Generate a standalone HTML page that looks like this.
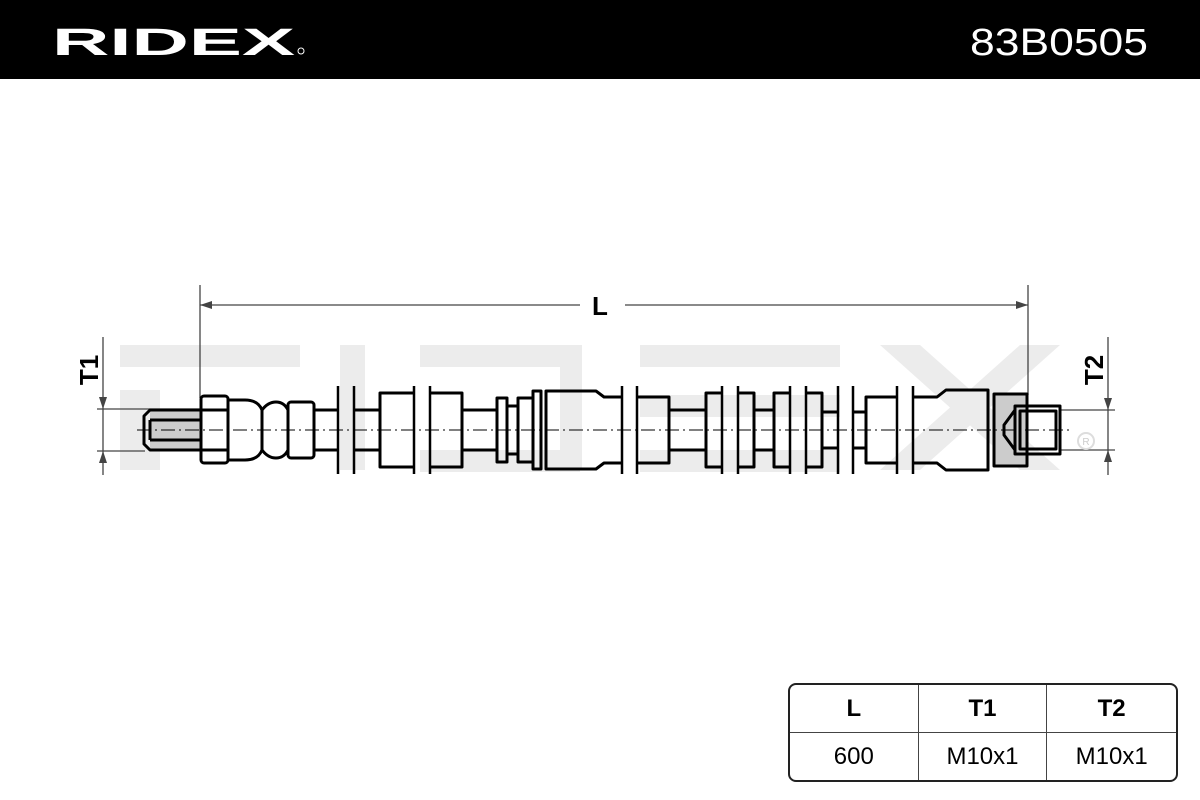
<!DOCTYPE html>
<html><head><meta charset="utf-8"><style>
html,body{margin:0;padding:0;background:#fff;}
body{width:1200px;height:800px;position:relative;overflow:hidden;font-family:"Liberation Sans",sans-serif;}
.bar{position:absolute;left:0;top:0;width:1200px;height:79px;background:#000;}
table{position:absolute;left:788px;top:683px;width:390px;height:99px;border-collapse:separate;border-spacing:0;border:2px solid #222;border-radius:8px;font-size:24px;}
td{text-align:center;border-right:1px solid #444;width:33%;}
td:last-child{border-right:none;}
tr:first-child td{border-bottom:1px solid #444;font-weight:bold;}
</style></head><body>
<div class="bar"></div>
<svg width="1200" height="800" style="position:absolute;left:0;top:0">
<text x="52" y="55" font-size="38" font-weight="bold" fill="#fff" textLength="243" lengthAdjust="spacingAndGlyphs" font-family="Liberation Sans">RIDEX</text>
<circle cx="301" cy="51" r="3" fill="none" stroke="#fff" stroke-width="1"/>
<text x="970" y="55" font-size="38" fill="#fff" textLength="178" lengthAdjust="spacingAndGlyphs" font-family="Liberation Sans">83B0505</text>
<!-- watermark -->
<g fill="#ececec">
<rect x="120" y="345" width="180" height="22"/><rect x="120" y="390" width="40" height="80"/><rect x="340" y="345" width="25" height="125"/>
<rect x="420" y="345" width="160" height="22"/><rect x="420" y="450" width="160" height="22"/><rect x="560" y="345" width="22" height="125"/>
<rect x="640" y="345" width="200" height="22"/><rect x="640" y="395" width="200" height="22"/><rect x="640" y="450" width="200" height="22"/>
<polygon points="880,345 920,345 1060,470 1020,470"/><polygon points="1020,345 1060,345 920,470 880,470"/>
</g>
<g stroke="#444" stroke-width="1.3" fill="none">
<line x1="200" y1="285" x2="200" y2="398"/><line x1="1028" y1="285" x2="1028" y2="395"/>
<line x1="200" y1="305" x2="580" y2="305"/><line x1="625" y1="305" x2="1028" y2="305"/>
<line x1="103" y1="337" x2="103" y2="475"/><line x1="97" y1="409" x2="200" y2="409"/><line x1="97" y1="451" x2="145" y2="451"/>
<line x1="1108" y1="337" x2="1108" y2="475"/><line x1="1060" y1="410" x2="1115" y2="410"/><line x1="1060" y1="450" x2="1115" y2="450"/>
</g>
<g fill="#444">
<polygon points="200,305 212,301 212,309"/><polygon points="1028,305 1016,301 1016,309"/>
<polygon points="103,409 99,397 107,397"/><polygon points="103,451 99,463 107,463"/>
<polygon points="1108,410 1104,398 1112,398"/><polygon points="1108,450 1104,462 1112,462"/>
</g>
<text x="600" y="315" font-size="26" font-weight="bold" text-anchor="middle" font-family="Liberation Sans">L</text>
<text transform="translate(98,370) rotate(-90)" font-size="26" font-weight="bold" text-anchor="middle" font-family="Liberation Sans">T1</text>
<text transform="translate(1103,370) rotate(-90)" font-size="26" font-weight="bold" text-anchor="middle" font-family="Liberation Sans">T2</text>
<g fill="#ccc"><rect x="150" y="410" width="50" height="40"/><rect x="994" y="394" width="33" height="72"/></g>
<g stroke="#000" stroke-width="3" fill="none" stroke-linejoin="round">
<path d="M200,410 H150 L144,416 V444 L150,450 H200"/>
<path d="M150,420 V440 M150,420 H200 M150,440 H200"/>
<rect x="201" y="396" width="27" height="67" rx="3"/><line x1="201" y1="410" x2="228" y2="410"/><line x1="201" y1="450" x2="228" y2="450"/>
<path d="M228,400 H245 Q258,400 262,410 V450 Q258,460 245,460 H228"/>
<path d="M262,410 Q268,402 276,402 Q284,402 288,410 V450 Q284,458 276,458 Q268,458 262,450"/>
<rect x="288" y="402" width="26" height="56" rx="3"/>
<path d="M314,410 H338 M314,450 H338"/>
<path d="M354,410 H380 M354,450 H380"/>
<path d="M414,393 H380 V467 H414"/><path d="M430,393 H462 V467 H430"/>
<path d="M462,410 H497 M462,450 H497"/>
<rect x="497" y="398" width="10" height="64"/><rect x="507" y="406" width="11" height="48"/><rect x="518" y="398" width="15" height="64"/><rect x="533" y="391" width="8" height="78"/>
<path d="M622,397 H604 L596,391 H546 V469 H596 L604,463 H622"/>
<path d="M637,397 H669 V463 H637"/><path d="M669,410 H706 M669,450 H706"/>
<path d="M722,393 H706 V467 H722"/><path d="M738,393 H754 V467 H738"/><path d="M754,410 H774 M754,450 H774"/>
<path d="M790,393 H774 V467 H790"/><path d="M806,393 H822 V467 H806"/><path d="M822,412 H838 M822,448 H838"/>
<path d="M853,412 H866 M853,448 H866"/><path d="M897,397 H866 V463 H897"/>
<path d="M913,397 H937 L946,390 H988 V470 H946 L937,463 H913"/>
<rect x="994" y="394" width="33" height="72"/>
<rect x="1015" y="406" width="45" height="48"/><rect x="1020" y="411" width="36" height="38"/>
<path d="M1015,410 L1004,425 V435 L1015,450"/>
</g>
<g stroke="#000" stroke-width="2.5">
<line x1="338" y1="386" x2="338" y2="474"/><line x1="354" y1="386" x2="354" y2="474"/>
<line x1="414" y1="386" x2="414" y2="474"/><line x1="430" y1="386" x2="430" y2="474"/>
<line x1="622" y1="386" x2="622" y2="474"/><line x1="637" y1="386" x2="637" y2="474"/>
<line x1="722" y1="386" x2="722" y2="474"/><line x1="738" y1="386" x2="738" y2="474"/>
<line x1="790" y1="386" x2="790" y2="474"/><line x1="806" y1="386" x2="806" y2="474"/>
<line x1="838" y1="386" x2="838" y2="474"/><line x1="853" y1="386" x2="853" y2="474"/>
<line x1="897" y1="386" x2="897" y2="474"/><line x1="913" y1="386" x2="913" y2="474"/>
</g>
<line x1="137" y1="430" x2="1070" y2="430" stroke="#000" stroke-width="1" stroke-dasharray="14,4,2,4"/>
<circle cx="1086" cy="441" r="8" fill="none" stroke="#ddd" stroke-width="2"/>
<text x="1086" y="445" font-size="10" fill="#ccc" text-anchor="middle" font-family="Liberation Sans">R</text>
</svg>
<table><tr><td>L</td><td>T1</td><td>T2</td></tr><tr><td>600</td><td>M10x1</td><td>M10x1</td></tr></table>
</body></html>
